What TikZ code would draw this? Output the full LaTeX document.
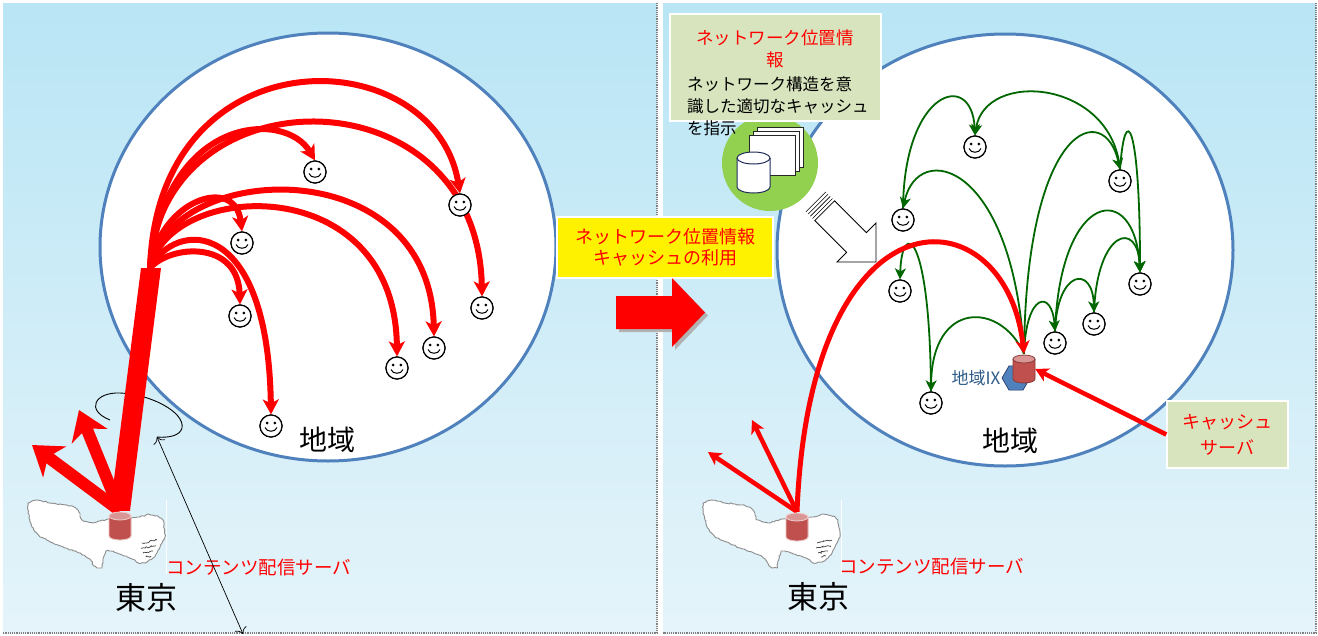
\documentclass[tikz,border=0pt]{standalone}
\usepackage{fontspec}
\setmainfont{Noto Sans CJK JP}
\usetikzlibrary{arrows.meta,positioning,shapes.geometric,decorations.pathmorphing}

\definecolor{skytop}{HTML}{B9E5F5}
\definecolor{skybot}{HTML}{E5F4FA}
\definecolor{ringblue}{HTML}{4F81BD}
\definecolor{srvred}{HTML}{C0504D}
\definecolor{srvlid}{HTML}{D99694}
\definecolor{memo}{HTML}{D7E4BD}
\definecolor{leaf}{HTML}{92D050}
\definecolor{relay}{HTML}{006600}
\definecolor{ixblue}{HTML}{2E5C8A}
\definecolor{navy}{HTML}{1F2D5A}

\tikzset{
  panelrule/.style={gray, densely dotted, line width=1.2pt},
  regionline/.style={draw=ringblue, line width=3pt, fill=white},
  areatag/.style={font=\fontsize{28}{28}\selectfont},
  citytag/.style={font=\fontsize{31}{31}\selectfont},
  srvtag/.style={text=red, font=\fontsize{18.5}{18.5}\selectfont, anchor=west, inner sep=0pt},
  face/.style={circle, draw, line width=1.2pt, fill=white, minimum size=22pt, inner sep=0pt,
    path picture={
      \fill[black] ([xshift=-3.8pt,yshift=3pt]path picture bounding box.center) circle (1.5pt)
            ([xshift=3.8pt,yshift=3pt]path picture bounding box.center) circle (1.5pt);
      \draw[black, line width=1pt] ([xshift=-6pt,yshift=-1.5pt]path picture bounding box.center)
        .. controls +(1.5pt,-5pt) and +(-1.5pt,-5pt) .. ([xshift=6pt,yshift=-1.5pt]path picture bounding box.center);}},
  burst/.style={red, line width=6pt, -{Stealth[length=15pt,width=16pt,inset=4pt]}},
  surge/.style={red, line width=12pt, -{Stealth[length=28pt,width=38pt,inset=8pt]}},
  feed/.style={red, line width=4.5pt, -{Stealth[length=13pt,width=14pt,inset=3.5pt]}},
  relayline/.style={relay, line width=1.8pt, -{Stealth[length=11pt,width=11pt,inset=3pt]}},
  memobox/.style={fill=memo, draw=white, line width=1.5pt, inner sep=0pt},
  mapedge/.style={fill=white, draw=black!45, line width=0.9pt,
    decorate, decoration={random steps, segment length=2pt, amplitude=0.7pt}},
}

% outline of the Tokyo map, drawn once per panel
\newcommand\tokyoshape{%
  \draw[mapedge] (28,503) -- (36,500) -- (42,501) -- (50,503) -- (60,504) -- (67,505)
    -- (74,507) -- (78,510) -- (80,515) -- (82,520) -- (88,522) -- (93,523) -- (100,521)
    -- (108,519) -- (116,518) -- (124,518) -- (130,518) -- (137,517) -- (143,516)
    -- (148,514) -- (153,515) -- (158,516) -- (163,520) -- (164,528) -- (165,537)
    -- (162,543) -- (160,547) -- (157,553) -- (153,558) -- (147,562) -- (142,563)
    -- (138,563) -- (135,560) -- (126,556) -- (117,553) -- (110,551) -- (106,551)
    -- (104,556) -- (103,561) -- (102,568) -- (97,568) -- (94,566) -- (90,559)
    -- (84,555) -- (77,552) -- (68,549) -- (58,545) -- (49,541) -- (40,537)
    -- (35,532) -- (32,527) -- (30,520) -- (28,513) -- cycle;
  \draw[black!75, line width=0.7pt, decorate, decoration={random steps, segment length=1.5pt, amplitude=1pt}]
    (142,543) -- (157,540) (141,548) -- (156,546) (143,553) -- (153,551) (146,557) -- (151,556);
  \draw[white, line width=1pt] (166,500) -- (166,574);
}

% red server can: #1 name, #2 x, #3 y, #4 rim colour
\newcommand\servercan[4]{%
  \fill[srvred] (#2-11,#3-10) rectangle (#2+11,#3+10);
  \draw[#4, line width=0.8pt, fill=srvred] (#2-11,#3-10) -- (#2-11,#3+10)
    arc[start angle=180, end angle=360, x radius=11pt, y radius=4pt] -- (#2+11,#3-10);
  \filldraw[fill=srvlid, draw=#4, line width=0.8pt] (#2,#3-10) ellipse (11pt and 4pt);
  \node[inner sep=0pt, minimum width=22pt, minimum height=30pt] (#1) at (#2,#3) {};
}

\begin{document}
\begin{tikzpicture}[x=1pt, y=-1pt]
\useasboundingbox (0,0) rectangle (1318,635);

% two panels
\shade[top color=skytop, bottom color=skybot] (3,3) rectangle (657,633);
\shade[top color=skytop, bottom color=skybot] (663,3) rectangle (1316,633);
\draw[panelrule] (657,3) -- (657,633) -- (3,633);
\draw[panelrule] (1316,3) -- (1316,633) -- (663,633);

% regions
\coordinate (lregion) at (328,247);
\coordinate (rregion) at (1005,250);
\draw[regionline] (lregion) ellipse (228pt and 214pt);
\draw[regionline] (rregion) ellipse (228pt and 216pt);
\node[areatag] (larea) at (327,440) {地域};
\node[areatag] (rarea) at (1010,441) {地域};

%% ---------------- left panel: everything from Tokyo ----------------
\tokyoshape
\node[srvtag] (ltag) at (166,567) {コンテンツ配信サーバ};
\node[citytag] (lcity) at (146,598) {東京};

\node[face] (la) at (315,172) {};
\node[face] (lb) at (460,205) {};
\node[face] (lc) at (242,243) {};
\node[face] (ld) at (482,308) {};
\node[face] (le) at (240,316) {};
\node[face] (lf) at (434,348) {};
\node[face] (lg) at (397,368) {};
\node[face] (lh) at (271,426) {};

\coordinate (fan) at (150,268);
\coordinate (lout1) at (32,445);
\coordinate (lout2) at (79,410);
\coordinate (loopend) at (157,437);
\coordinate (farend) at (243,634);

% distance marker
\draw[line width=0.9pt] (110,420) .. controls (85,410) and (95,392) .. (120,393)
  .. controls (150,394) and (185,412) .. (182,428) .. controls (180,436) and (168,438) .. (loopend);
\draw[line width=0.7pt, {To[length=6pt]}-{To[length=6pt]}] (loopend) -- (farend);

% trunk and fan of deliveries
\servercan{lsrv}{120}{526}{white!75!srvred}
\fill[red] ([xshift=-10pt]lsrv.north) -- ([xshift=-9pt]fan) -- ([xshift=11pt]fan) -- ([xshift=10pt]lsrv.north) -- cycle;
\draw[burst] (fan) .. controls +(15,-153) and +(-30,-51) .. (la.north);
\draw[burst] (fan) .. controls +(8,-238) and +(-25,-154) .. (lb.north);
\draw[burst] (fan) .. controls +(10,-198) and +(-4,-227) .. (ld.north);
\draw[burst] (fan) .. controls +(10,-68) and +(-7,-57) .. (lc.north);
\draw[burst] (fan) .. controls +(20,-108) and +(-4,-187) .. (lf.north);
\draw[burst] (fan) .. controls +(20,-88) and +(-2,-187) .. (lg.north);
\draw[burst] (fan) .. controls +(20,-23) and +(-2,-65) .. (le.north);
\draw[burst] (fan) .. controls +(25,-48) and +(-3,-200) .. (lh.north);
\draw[surge] (lsrv.north) -- (lout1);
\draw[surge] (lsrv.north) -- (lout2);
\servercan{lcan}{120}{526}{white!75!srvred}

% faces on top
\foreach \f in {la,lb,lc,ld,le,lf,lg,lh}
  \node[face] at (\f) {};

%% ---------------- middle ----------------
\node[fill=yellow, draw=white, line width=1.5pt, minimum width=216pt, minimum height=61pt,
  text=red, align=center, font=\fontsize{18}{21}\selectfont] (usebox) at (665,247.5)
  {ネットワーク位置情報\\キャッシュの利用};
\fill[gray!60] (619,299) -- (675,299) -- (675,281) -- (708,315.5) -- (675,350) -- (675,332) -- (619,332) -- cycle;
\fill[red] (616,296) -- (672,296) -- (672,278) -- (705,312.5) -- (672,347) -- (672,329) -- (616,329) -- cycle;

%% ---------------- right panel: caching in the region ----------------
\begin{scope}[xshift=675pt]
  \tokyoshape
\end{scope}
\node[srvtag] (rtag) at (839,566) {コンテンツ配信サーバ};
\node[citytag] (rcity) at (818,597) {東京};

% directory server
\node[circle, fill=leaf, minimum size=96pt] (dbdisc) at (770,163) {};
\foreach \k in {0,1,2}
  \draw[fill=white, draw=black!85, line width=0.8pt] (757-4*\k,127+4*\k) rectangle +(46,40);
\filldraw[fill=white, draw=navy, line width=1pt] (737,158) -- (737,187)
  arc[start angle=180, end angle=360, x radius=16.5pt, y radius=6pt] -- (770,158)
  arc[start angle=0, end angle=180, x radius=16.5pt, y radius=6pt] -- cycle;
\draw[navy, line width=1pt] (737,158) arc[start angle=180, end angle=360, x radius=16.5pt, y radius=6pt];

\node[memobox, minimum width=211pt, minimum height=107pt] (hintbox) at (775.5,67.5) {};
\node[text=red, align=center, font=\fontsize{17.5}{22.5}\selectfont, inner sep=0pt] (hinthead)
  at (775,49) {ネットワーク位置情\\報};
\node[anchor=west, align=left, font=\fontsize{16.5}{22}\selectfont, inner sep=0pt] (hintbody)
  at (687,106) {ネットワーク構造を意\\識した適切なキャッシュ\\を指示};

% hint arrow with striped tail
\draw[fill=white, line width=0.8pt] (834.6,200.8) -- (866.4,232.6) -- (876,223) -- (876,262)
  -- (837,262) -- (846.6,252.4) -- (814.8,220.6) -- cycle;
\foreach \k in {1,...,4}
  \draw[line width=0.6pt] (834.6-2.2*\k,200.8-2.2*\k) -- (814.8-2.2*\k,220.6-2.2*\k);

% regional exchange with cache
\node[regular polygon, regular polygon sides=6, fill=ringblue, draw=navy, line width=0.6pt,
  minimum size=28pt, inner sep=0pt] (ixhex) at (1016,378) {};
\node[left=1pt of ixhex, text=ixblue, font=\fontsize{17}{17}\selectfont, inner sep=0pt] (ixtag) {地域IX};

\node[face] (ra) at (975,147) {};
\node[face] (rb) at (1120,181) {};
\node[face] (rc) at (903,220) {};
\node[face] (rd) at (1140,284) {};
\node[face] (re) at (900,291) {};
\node[face] (rf) at (1094,324) {};
\node[face] (rg) at (1055,343) {};
\node[face] (rh) at (931,403) {};

\servercan{ixsrv}{1024}{369}{srvred!70!black}

\draw[relayline] (ixsrv.north) .. controls +(2,-232) and +(-15,-70) .. (rb.north);
\draw[relayline] (rb.north) .. controls +(5,-70) and +(0,-150) .. (rd.north);
\draw[relayline] (ixsrv.north) .. controls +(-11,-192) and +(15,-69) .. (rc.north);
\draw[relayline] (rc.north) .. controls +(1,-119) and +(-3,-66) .. (ra.north);
\draw[relayline] (rb.north) .. controls +(-8,-90) and +(10,-66) .. (ra.north);
\draw[relayline] (ixsrv.north) .. controls +(2,-62) and +(-3,-42) .. (rg.north);
\draw[relayline] (rg.north) .. controls +(2,-62) and +(-1,-48) .. (rf.north);
\draw[relayline] (rg.north) .. controls +(5,-142) and +(-5,-93) .. (rd.north);
\draw[relayline] (rf.north) .. controls +(3,-83) and +(-2,-53) .. (rd.north);
\draw[relayline] (ixsrv.north) .. controls +(-23,-52) and +(1,-92) .. (rh.north);
\draw[relayline] (rh.north) .. controls +(-1,-162) and +(2,-60) .. (re.north);

\servercan{rsrv}{797}{527}{white!75!srvred}
\coordinate (rout1) at (708,452);
\coordinate (rout2) at (752,420);
\draw[feed] (rsrv.north) -- (rout1);
\draw[feed] (rsrv.north) -- (rout2);
\draw[feed, line width=5pt] (rsrv.north) .. controls +(13,-332) and +(-18,-162) .. (ixsrv.north);
\servercan{rcan}{797}{527}{white!75!srvred}

\node[memobox, minimum width=121pt, minimum height=67pt, text=red, align=center,
  font=\fontsize{18}{26}\selectfont] (cachebox) at (1227.5,434.5) {キャッシュ\\サーバ};
\draw[feed] (cachebox.west) -- (ixsrv.east);

\foreach \f in {ra,rb,rc,rd,re,rf,rg,rh}
  \node[face] at (\f) {};
\end{tikzpicture}
\end{document}
